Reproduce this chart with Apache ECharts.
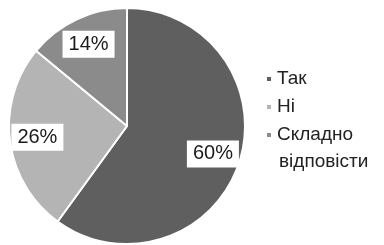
<!DOCTYPE html>
<html lang="uk">
<head>
    <meta charset="UTF-8">
    <title>pie</title>
    <style>
        html, body { margin: 0; padding: 0; background: #fff; }
    </style>
    <script src="https://cdn.jsdelivr.net/npm/echarts@6/dist/echarts.min.js"></script>
</head>
<body>
<div id="main" style="width:384px;height:245px"></div>
<script>
    var categories = ['Так', 'Ні', 'Складно відповісти'];
    var values = [60, 26, 14];
    var colors = ['#5f5f5f', '#b4b4b4', '#8b8b8b'];

    var font = '"Liberation Sans", Arial, sans-serif';
    var R = 118;

    var pieData = categories.map(function (name, i) {
        return { name: name, value: values[i], itemStyle: { color: colors[i] } };
    });

    var myChart = echarts.init(document.getElementById('main'));
    var option = {
        animation: false,
        color: colors,
        legend: {
            orient: 'vertical',
            left: 265,
            top: 69,
            padding: 0,
            icon: 'rect',
            itemWidth: 6,
            itemHeight: 6,
            itemGap: 8,
            data: categories,
            formatter: function (name) {
                return name.split(' ')[0];
            },
            textStyle: { fontFamily: font, fontSize: 19, color: '#222', lineHeight: 20 }
        },
        graphic: [{
            type: 'text',
            left: 279,
            top: 152,
            style: { text: 'відповісти', font: '19px ' + font, fill: '#222' }
        }],
        series: [{
            type: 'pie',
            center: [127, 126],
            radius: [0, R],
            startAngle: 90,
            clockwise: true,
            label: { show: false },
            labelLine: { show: false },
            itemStyle: { borderColor: '#fff', borderWidth: 2 },
            data: pieData
        }, {
            // invisible pie, only there to put the percentage labels farther out
            type: 'pie',
            center: [127, 126],
            radius: [0, R * 1.48],
            startAngle: 90,
            clockwise: true,
            silent: true,
            legendHoverLink: false,
            itemStyle: { color: 'rgba(0,0,0,0)', borderWidth: 0 },
            label: {
                show: true,
                position: 'inside',
                formatter: '{c}%',
                fontFamily: font,
                fontSize: 20,
                color: '#1a1a1a',
                backgroundColor: '#fff',
                padding: [4, 6, 3, 6]
            },
            labelLine: { show: false },
            data: categories.map(function (name, i) {
                return { name: name, value: values[i], itemStyle: { color: 'rgba(0,0,0,0)' } };
            })
        }]
    };
    myChart.setOption(option);
</script>
</body>
</html>
